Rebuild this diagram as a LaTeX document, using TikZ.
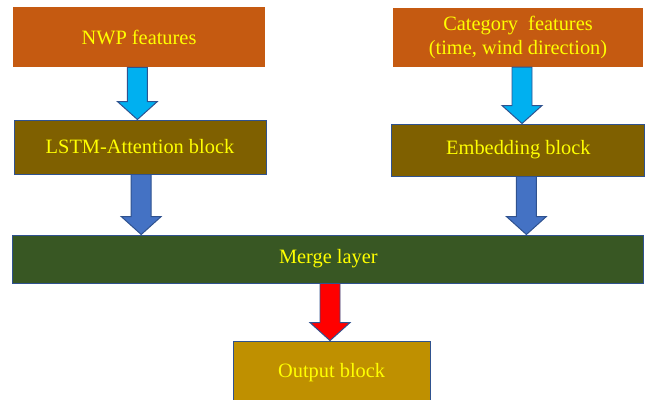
\documentclass[tikz,border=0pt]{standalone}
\usepackage{fontspec}
\setmainfont{LiberationSerif-Regular.ttf}
\usepackage{tikz}
\usetikzlibrary{calc,positioning}
\usepackage{xcolor}
\definecolor{morange}{HTML}{C55A11}
\definecolor{mbrown}{HTML}{7F6000}
\definecolor{mgreen}{HTML}{385723}
\definecolor{mgold}{HTML}{BF9000}
\definecolor{mcyan}{HTML}{00B0F0}
\definecolor{mblue}{HTML}{4472C4}
\definecolor{mred}{HTML}{FF0000}
\definecolor{medge}{HTML}{2F528F}
\definecolor{myellow}{HTML}{FFFF00}
\tikzstyle{block}=[rectangle, inner sep=2pt, text=myellow, align=center, font=\fontsize{14.5}{16.5}\selectfont]
\tikzstyle{l1}=[draw=medge, line width=0.7pt]
\tikzstyle{barrow}=[draw=medge, line width=0.7pt, line join=miter]
% block arrow: style, start, tip
\newcommand{\blockarrow}[3]{%
  \draw[barrow, #1] let \p1=(#2), \p2=(#3) in
    (\x1-0.25cm,\y1) -- (\x1-0.25cm,\y2+0.45cm) -- (\x1-0.5cm,\y2+0.45cm) -- (\x1,\y2)
    -- (\x1+0.5cm,\y2+0.45cm) -- (\x1+0.25cm,\y2+0.45cm) -- (\x1+0.25cm,\y1) -- cycle;}

\begin{document}
\begin{tikzpicture}

    \useasboundingbox (0,0) rectangle (16.25,9.975);

    \node[block, fill=morange, minimum width=6.3cm, minimum height=1.5cm] at (3.475,9.05) (1) {NWP features};
    \node[block, fill=morange, minimum width=6.25cm, minimum height=1.475cm] at (12.95,9.04) (2) {Category~ features\\(time, wind direction)};
    \node[block, l1, fill=mbrown, minimum width=6.3cm, minimum height=1.35cm] at (3.5,6.3) (3) {LSTM-Attention block};
    \node[block, l1, fill=mbrown, minimum width=6.325cm, minimum height=1.3cm] at (12.96,6.225) (4) {Embedding block};
    \node[block, l1, fill=mgreen, minimum width=15.775cm, minimum height=1.2cm] at (8.21,3.5) (5) {Merge layer};
    \node[block, l1, fill=mgold, minimum width=4.925cm, minimum height=1.575cm] at (8.29,0.66) (6) {Output block};

    \blockarrow{fill=mcyan}{$(1.south)+(-0.04,0)$}{3.north}
    \blockarrow{fill=mcyan}{$(2.south)+(0.1,0)$}{4.north}
    \blockarrow{fill=mblue}{$(3.south)+(0.03,0)$}{5.north}
    \blockarrow{fill=mblue}{$(4.south)+(0.2,0)$}{5.north}
    \blockarrow{fill=mred}{$(5.south)+(0.04,0)$}{6.north}

\end{tikzpicture}
\end{document}
